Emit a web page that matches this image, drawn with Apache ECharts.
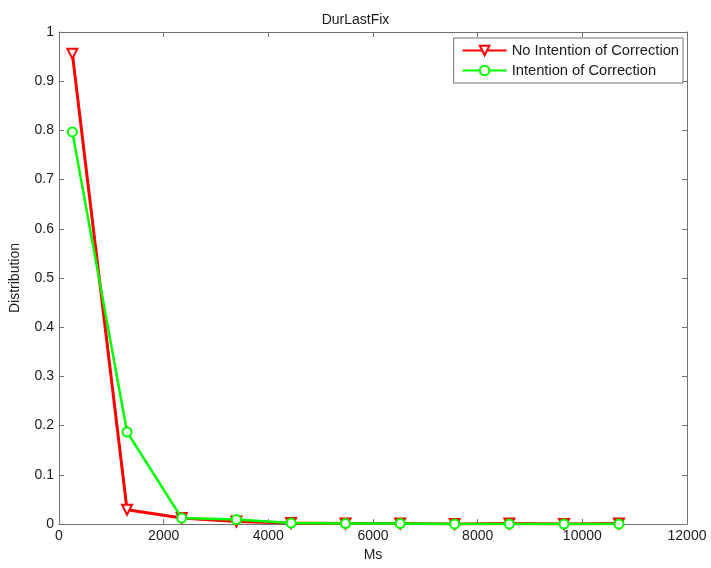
<!DOCTYPE html>
<html>
<head>
<meta charset="utf-8">
<script src="https://cdn.jsdelivr.net/npm/echarts@6/dist/echarts.min.js"></script>
<style>
  html, body { margin: 0; padding: 0; background: #fff; }
  #chart { width: 711px; height: 568px; }
</style>
</head>
<body>
<div id="chart"></div>
<script>
// Fixation duration bins (ms) and distribution per group
const durationMs = [255, 1300, 2345, 3390, 4435, 5475, 6520, 7560, 8605, 9650, 10700];
const noIntention = [0.956, 0.029, 0.012, 0.005, 0.002, 0.001, 0.001, 0.0, 0.001, 0.0, 0.001];
const withIntention = [0.797, 0.187, 0.012, 0.009, 0.002, 0.001, 0.001, 0.0, 0.0, 0.0, 0.0];
const xTicks = [0, 2000, 4000, 6000, 8000, 10000, 12000];
const yTicks = [0, 0.1, 0.2, 0.3, 0.4, 0.5, 0.6, 0.7, 0.8, 0.9, 1];

const FONT = 'Arial, "Liberation Sans", Helvetica, sans-serif';
const axisColor = '#707070';
const textColor = '#1a1a1a';

const chart = echarts.init(document.getElementById('chart'), null, { renderer: 'canvas' });

const baseX = {
  type: 'value', min: xTicks[0], max: xTicks[xTicks.length - 1], interval: 2000,
  axisLine: { show: true, onZero: false, lineStyle: { color: axisColor, width: 1 } },
  axisTick: { show: true, inside: true, length: 5, lineStyle: { color: axisColor } },
  splitLine: { show: false }
};
const baseY = {
  type: 'value', min: yTicks[0], max: yTicks[yTicks.length - 1], interval: 0.1,
  axisLine: { show: true, onZero: false, lineStyle: { color: axisColor, width: 1 } },
  axisTick: { show: true, inside: true, length: 5, lineStyle: { color: axisColor } },
  splitLine: { show: false }
};

chart.setOption({
  animation: false,
  backgroundColor: '#fff',
  title: {
    text: 'DurLastFix', left: 'center', top: 8,
    textStyle: { fontFamily: FONT, fontSize: 14, fontWeight: 'normal', color: textColor }
  },
  grid: { left: 57, right: 24, top: 32, bottom: 44 },
  legend: {
    orient: 'vertical', right: 28, top: 38,
    backgroundColor: '#fff', borderColor: '#707070', borderWidth: 1,
    padding: [5, 4, 5, 8], itemGap: 5, itemWidth: 44, itemHeight: 12,
    textStyle: { fontFamily: FONT, fontSize: 14.7, color: textColor },
    data: ['No Intention of Correction', 'Intention of Correction']
  },
  xAxis: [
    Object.assign({}, baseX, {
      position: 'bottom', name: 'Ms', nameLocation: 'middle', nameGap: 23,
      nameTextStyle: { fontFamily: FONT, fontSize: 14, color: textColor },
      axisLabel: { fontFamily: FONT, fontSize: 14, color: textColor, margin: 5,
        formatter: v => String(v) }
    }),
    Object.assign({}, baseX, { position: 'top', axisLabel: { show: false } })
  ],
  yAxis: [
    Object.assign({}, baseY, {
      position: 'left', name: 'Distribution', nameLocation: 'middle', nameGap: 37,
      nameTextStyle: { fontFamily: FONT, fontSize: 14, color: textColor },
      axisLabel: { fontFamily: FONT, fontSize: 14, color: textColor, margin: 5,
        formatter: v => String(Math.round(v * 10) / 10) }
    }),
    Object.assign({}, baseY, { position: 'right', axisLabel: { show: false } })
  ],
  series: [
    {
      name: 'No Intention of Correction', type: 'line',
      data: durationMs.map((x, i) => [x, noIntention[i]]),
      symbol: 'triangle', symbolRotate: 180, symbolSize: 10, showAllSymbol: true,
      lineStyle: { color: '#ff0000', width: 3 },
      itemStyle: { color: '#ffffff', borderColor: '#ff0000', borderWidth: 2 },
      emphasis: { disabled: true }, z: 2
    },
    {
      name: 'Intention of Correction', type: 'line',
      data: durationMs.map((x, i) => [x, withIntention[i]]),
      symbol: 'circle', symbolSize: 9, showAllSymbol: true,
      lineStyle: { color: '#00ff00', width: 2.5 },
      itemStyle: { color: '#ffffff', borderColor: '#00ff00', borderWidth: 2 },
      emphasis: { disabled: true }, z: 3
    }
  ]
});
</script>
</body>
</html>
